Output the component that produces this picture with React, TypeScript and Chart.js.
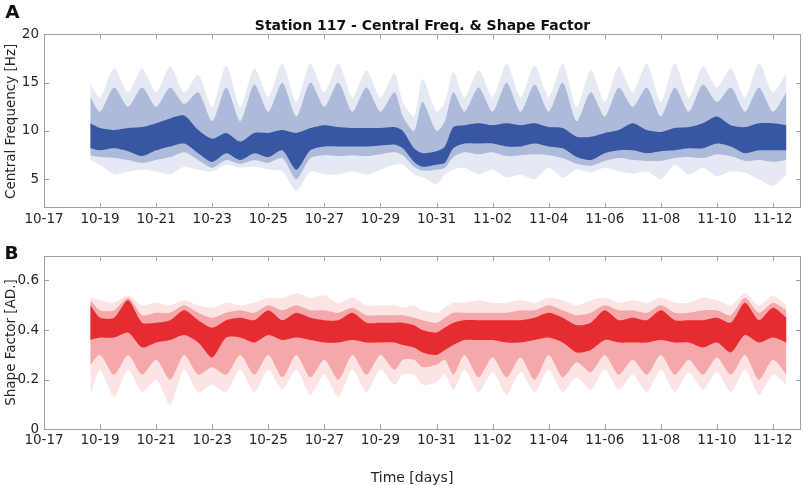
import React, { useEffect, useRef } from 'react';
import { Chart, registerables } from 'chart.js';

Chart.register(...registerables);

// Time axis: days since 10-17
const dayOffsets = [1.65, 2, 2.5, 3, 3.5, 4, 4.5, 5, 5.5, 6, 6.5, 7, 7.5, 8, 8.5, 9, 9.5, 10, 10.5, 11, 11.5, 12, 12.5, 12.8, 13.2, 13.5, 14, 14.3, 14.6, 15, 15.5, 16, 16.5, 17, 17.5, 18, 18.5, 19, 19.5, 20, 20.5, 21, 21.5, 22, 22.5, 23, 23.5, 24, 24.5, 25, 25.5, 26, 26.48];

// Panel A: central frequency [Hz] point-cloud envelopes
const freqOuterHigh = [15.0, 13.5, 16.5, 14.0, 16.5, 14.0, 16.7, 14.0, 15.8, 12.5, 16.8, 12.5, 16.5, 13.5, 17.0, 13.0, 17.0, 14.0, 17.0, 13.5, 16.3, 13.5, 16.0, 13.0, 11.5, 15.4, 12.0, 13.0, 16.1, 13.5, 16.3, 13.5, 17.0, 13.5, 16.8, 13.5, 17.0, 12.5, 16.3, 13.0, 16.7, 14.0, 17.0, 13.0, 17.0, 13.5, 16.7, 14.5, 16.5, 13.5, 17.0, 14.0, 16.0];
const freqMidHigh = [13.5, 12.0, 14.5, 12.5, 14.5, 12.5, 14.5, 12.8, 14.0, 11.0, 14.5, 11.0, 14.8, 12.0, 15.0, 11.5, 15.0, 12.5, 15.0, 12.0, 14.5, 12.0, 14.0, 11.5, 10.0, 13.0, 10.0, 11.0, 14.0, 12.0, 14.5, 12.0, 15.0, 12.0, 14.8, 12.0, 15.0, 11.0, 14.0, 11.5, 14.5, 12.5, 14.5, 11.5, 14.5, 12.0, 14.8, 13.0, 14.5, 12.0, 14.5, 12.0, 14.0];
const freqCoreHigh = [10.8, 10.3, 10.1, 10.3, 10.4, 10.8, 11.3, 11.6, 10.1, 9.2, 9.8, 8.9, 9.8, 9.8, 10.1, 9.8, 10.3, 10.6, 10.4, 10.3, 10.3, 10.3, 10.4, 10.0, 8.2, 7.7, 7.9, 8.4, 10.4, 10.6, 10.8, 10.6, 10.8, 10.6, 10.8, 10.4, 10.3, 9.4, 9.4, 9.8, 10.1, 10.8, 10.1, 9.9, 10.3, 10.4, 10.8, 11.5, 10.6, 10.4, 10.8, 10.8, 10.6];
const freqCoreLow = [8.2, 8.0, 8.2, 7.9, 7.4, 8.0, 8.4, 8.7, 7.7, 6.8, 7.7, 7.0, 7.7, 7.3, 8.0, 6.0, 8.0, 8.4, 8.4, 8.4, 8.4, 8.5, 8.6, 8.2, 6.8, 6.3, 6.5, 6.7, 8.2, 8.7, 8.7, 8.7, 8.4, 8.4, 8.7, 8.4, 8.2, 7.3, 7.0, 7.7, 8.0, 8.0, 7.7, 7.9, 8.0, 8.2, 8.2, 8.7, 8.4, 7.7, 8.0, 8.0, 8.0];
const freqMidLow = [7.5, 7.3, 7.2, 7.0, 6.7, 7.0, 7.3, 7.8, 7.0, 6.2, 7.0, 6.6, 7.0, 6.7, 7.2, 5.0, 7.2, 7.5, 7.4, 7.5, 7.4, 7.6, 7.8, 7.5, 6.3, 5.9, 6.0, 6.2, 7.3, 7.8, 7.6, 7.8, 7.4, 7.5, 7.6, 7.5, 7.2, 6.6, 6.4, 6.9, 7.2, 7.0, 6.9, 6.9, 7.2, 7.3, 7.2, 7.6, 7.4, 6.9, 7.0, 6.8, 7.0];
const freqOuterLow = [7.0, 6.5, 5.5, 5.8, 6.0, 5.8, 5.5, 6.3, 6.0, 5.8, 6.5, 6.2, 6.3, 6.0, 5.8, 3.8, 5.8, 5.5, 5.5, 5.8, 5.5, 6.0, 6.5, 6.5, 5.5, 5.2, 4.5, 5.5, 6.0, 6.2, 5.5, 6.0, 5.2, 5.5, 5.0, 6.2, 5.2, 6.0, 5.7, 6.2, 5.8, 5.6, 5.8, 5.0, 6.5, 5.5, 6.2, 5.3, 5.8, 5.7, 5.0, 4.3, 5.5];

// Panel B: shape factor [AD.] point-cloud envelopes
const shapeOuterHigh = [0.53, 0.52, 0.51, 0.54, 0.50, 0.51, 0.50, 0.52, 0.50, 0.49, 0.51, 0.50, 0.51, 0.53, 0.53, 0.55, 0.53, 0.54, 0.51, 0.53, 0.50, 0.50, 0.50, 0.49, 0.50, 0.48, 0.47, 0.49, 0.51, 0.51, 0.52, 0.51, 0.51, 0.52, 0.51, 0.53, 0.52, 0.50, 0.52, 0.53, 0.51, 0.52, 0.51, 0.53, 0.51, 0.51, 0.53, 0.52, 0.50, 0.55, 0.50, 0.54, 0.50];
const shapeMidHigh = [0.52, 0.48, 0.48, 0.53, 0.46, 0.47, 0.47, 0.50, 0.47, 0.45, 0.47, 0.48, 0.47, 0.50, 0.48, 0.50, 0.48, 0.48, 0.47, 0.49, 0.46, 0.46, 0.46, 0.46, 0.45, 0.44, 0.43, 0.45, 0.47, 0.47, 0.47, 0.47, 0.47, 0.48, 0.48, 0.50, 0.48, 0.46, 0.47, 0.50, 0.48, 0.48, 0.47, 0.50, 0.47, 0.47, 0.48, 0.48, 0.46, 0.53, 0.47, 0.51, 0.48];
const shapeCoreHigh = [0.50, 0.45, 0.45, 0.52, 0.43, 0.43, 0.44, 0.48, 0.44, 0.41, 0.44, 0.45, 0.44, 0.48, 0.44, 0.47, 0.45, 0.44, 0.44, 0.47, 0.43, 0.43, 0.43, 0.43, 0.42, 0.40, 0.39, 0.41, 0.43, 0.44, 0.44, 0.44, 0.44, 0.44, 0.45, 0.47, 0.45, 0.42, 0.43, 0.48, 0.44, 0.45, 0.44, 0.48, 0.44, 0.44, 0.44, 0.45, 0.43, 0.51, 0.44, 0.49, 0.45];
const shapeCoreLow = [0.36, 0.37, 0.37, 0.39, 0.33, 0.35, 0.36, 0.38, 0.35, 0.29, 0.37, 0.37, 0.35, 0.38, 0.36, 0.37, 0.36, 0.35, 0.35, 0.36, 0.35, 0.35, 0.35, 0.34, 0.33, 0.31, 0.30, 0.32, 0.34, 0.36, 0.36, 0.36, 0.35, 0.35, 0.36, 0.37, 0.35, 0.31, 0.32, 0.36, 0.35, 0.35, 0.35, 0.36, 0.35, 0.35, 0.33, 0.35, 0.31, 0.38, 0.35, 0.37, 0.35];
const shapeMidLow = [0.26, 0.30, 0.22, 0.30, 0.22, 0.28, 0.20, 0.30, 0.22, 0.25, 0.22, 0.30, 0.22, 0.30, 0.21, 0.30, 0.21, 0.28, 0.20, 0.30, 0.22, 0.30, 0.24, 0.28, 0.28, 0.25, 0.26, 0.28, 0.22, 0.30, 0.21, 0.29, 0.21, 0.29, 0.20, 0.30, 0.21, 0.27, 0.23, 0.30, 0.22, 0.28, 0.22, 0.30, 0.22, 0.28, 0.22, 0.29, 0.22, 0.30, 0.20, 0.28, 0.22];
const shapeOuterLow = [0.14, 0.24, 0.13, 0.24, 0.15, 0.20, 0.10, 0.24, 0.15, 0.18, 0.15, 0.24, 0.15, 0.24, 0.16, 0.24, 0.14, 0.22, 0.13, 0.24, 0.15, 0.24, 0.18, 0.22, 0.22, 0.18, 0.19, 0.22, 0.16, 0.24, 0.15, 0.23, 0.14, 0.23, 0.15, 0.24, 0.15, 0.21, 0.16, 0.24, 0.16, 0.22, 0.15, 0.24, 0.15, 0.23, 0.16, 0.23, 0.15, 0.24, 0.14, 0.22, 0.18];

// Axis ticks
const xTickValues = [0, 2, 4, 6, 8, 10, 12, 14, 16, 18, 20, 22, 24, 26];
const xTickLabels = ['10-17', '10-19', '10-21', '10-23', '10-25', '10-27', '10-29', '10-31', '11-02', '11-04', '11-06', '11-08', '11-10', '11-12'];
const freqTicks = [5, 10, 15, 20];
const shapeTicks = [0, 0.2, 0.4, 0.6];

const FONT = '"DejaVu Sans", sans-serif';
const TEXT = '#262626';
const FRAME = '#a0a0a0';

const framePlugin = {
  id: 'frameTicks',
  afterDatasetsDraw(chart: any) {
    const { ctx, chartArea } = chart;
    const { left, right, top, bottom } = chartArea;
    const xs = chart.scales.x;
    const ys = chart.scales.y;
    ctx.save();
    ctx.strokeStyle = FRAME;
    ctx.lineWidth = 1;
    ctx.beginPath();
    const len = 5;
    xs.ticks.forEach((t: any) => {
      const px = Math.round(xs.getPixelForValue(t.value)) + 0.5;
      if (px <= left + 1 || px >= right - 1) return;
      ctx.moveTo(px, bottom);
      ctx.lineTo(px, bottom - len);
      ctx.moveTo(px, top);
      ctx.lineTo(px, top + len);
    });
    ys.ticks.forEach((t: any) => {
      const py = Math.round(ys.getPixelForValue(t.value)) + 0.5;
      if (py <= top + 1 || py >= bottom - 1) return;
      ctx.moveTo(left, py);
      ctx.lineTo(left + len, py);
      ctx.moveTo(right, py);
      ctx.lineTo(right - len, py);
    });
    ctx.stroke();
    ctx.strokeRect(Math.round(left) + 0.5, Math.round(top) + 0.5, Math.round(right - left) - 1, Math.round(bottom - top) - 1);
    ctx.restore();
  },
};

function pts(arr: number[]) {
  return dayOffsets.map((d, i) => ({ x: d, y: arr[i] }));
}

function bands(
  core: [number[], number[]],
  mid: [number[], number[]],
  outer: [number[], number[]],
  rgb: string,
) {
  const base = { pointRadius: 0, borderWidth: 0, borderColor: 'rgba(0,0,0,0)', tension: 0.25 };
  return [
    { ...base, data: pts(core[0]), fill: '+1', backgroundColor: `rgba(${rgb},0.9)` },
    { ...base, data: pts(core[1]), fill: false },
    { ...base, data: pts(mid[0]), fill: '+1', backgroundColor: `rgba(${rgb},0.3)` },
    { ...base, data: pts(mid[1]), fill: false },
    { ...base, data: pts(outer[0]), fill: '+1', backgroundColor: `rgba(${rgb},0.12)` },
    { ...base, data: pts(outer[1]), fill: false },
  ];
}

function makeOptions(yMin: number, yMax: number, yTicks: number[], yTitle: string, padTop: number, xHeight: number, yFmt: (v: number) => string) {
  return {
    animation: false,
    responsive: false,
    maintainAspectRatio: false,
    events: [],
    layout: { padding: { left: 0, right: 2, top: padTop, bottom: 0 } },
    plugins: { legend: { display: false }, tooltip: { enabled: false }, title: { display: false } },
    scales: {
      x: {
        type: 'linear',
        min: 0,
        max: 27,
        grid: { display: false, drawTicks: false },
        border: { display: false },
        afterBuildTicks: (s: any) => {
          s.ticks = xTickValues.map((v) => ({ value: v }));
        },
        afterFit: (s: any) => {
          s.height = xHeight;
        },
        ticks: {
          autoSkip: false,
          maxRotation: 0,
          padding: 3,
          color: TEXT,
          font: { family: FONT, size: 13.5 },
          callback: (_v: any, i: number) => xTickLabels[i] ?? '',
        },
      },
      y: {
        type: 'linear',
        min: yMin,
        max: yMax,
        grid: { display: false, drawTicks: false },
        border: { display: false },
        afterBuildTicks: (s: any) => {
          s.ticks = yTicks.map((v) => ({ value: v }));
        },
        afterFit: (s: any) => {
          s.width = 44;
        },
        ticks: {
          padding: 5,
          color: TEXT,
          font: { family: FONT, size: 13.5 },
          callback: (v: any) => yFmt(Number(v)),
        },
        title: {
          display: true,
          text: yTitle,
          color: TEXT,
          font: { family: FONT, size: 13.5 },
          padding: { top: 3, bottom: 3 },
        },
      },
    },
  };
}

export default function App() {
  const refA = useRef<HTMLCanvasElement>(null);
  const refB = useRef<HTMLCanvasElement>(null);

  useEffect(() => {
    const blue = '42,77,155';
    const red = '228,30,34';
    const a = new Chart(refA.current as HTMLCanvasElement, {
      type: 'line',
      data: {
        datasets: bands([freqCoreHigh, freqCoreLow], [freqMidHigh, freqMidLow], [freqOuterHigh, freqOuterLow], blue) as any,
      },
      options: makeOptions(2, 20, freqTicks, 'Central Frequency [Hz]', 34.3, 26.7, (v) => String(v)) as any,
      plugins: [framePlugin],
    });
    const b = new Chart(refB.current as HTMLCanvasElement, {
      type: 'line',
      data: {
        datasets: bands([shapeCoreHigh, shapeCoreLow], [shapeMidHigh, shapeMidLow], [shapeOuterHigh, shapeOuterLow], red) as any,
      },
      options: makeOptions(0, 0.7, shapeTicks, 'Shape Factor [AD.]', 20.7, 55.7, (v) => (v === 0 ? '0' : v.toFixed(1))) as any,
      plugins: [framePlugin],
    });
    return () => {
      a.destroy();
      b.destroy();
    };
  }, []);

  const label = (text: string, x: number, y: number, size: number, bold: boolean, color = TEXT) => (
    <div
      style={{
        position: 'absolute',
        left: x,
        top: y,
        transform: 'translate(-50%, -50%)',
        fontFamily: FONT,
        fontSize: size,
        fontWeight: bold ? 'bold' : 'normal',
        color,
        whiteSpace: 'nowrap',
        lineHeight: 1,
      }}
    >
      {text}
    </div>
  );

  return (
    <div style={{ position: 'absolute', left: 0, top: 0, width: 803, height: 485, background: '#fff', overflow: 'hidden' }}>
      <canvas ref={refA} width={803} height={235} style={{ position: 'absolute', left: 0, top: 0, width: 803, height: 235 }} />
      <canvas ref={refB} width={803} height={250} style={{ position: 'absolute', left: 0, top: 235, width: 803, height: 250 }} />
      {label('Station 117 - Central Freq. & Shape Factor', 422.5, 25, 14, true, '#111')}
      {label('A', 12.5, 12, 18.5, true, '#111')}
      {label('B', 11.5, 253, 18.5, true, '#111')}
      {label('Time [days]', 412, 477, 14, false)}
    </div>
  );
}
